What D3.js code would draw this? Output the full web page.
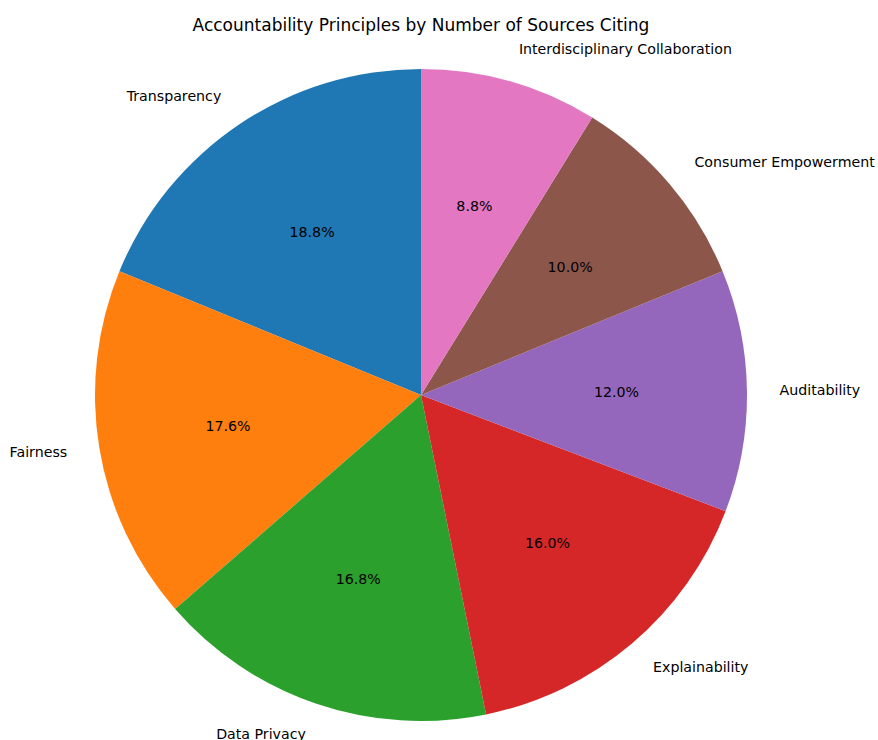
<!DOCTYPE html>
<html>
<head>
<meta charset="utf-8">
<script src="https://cdn.jsdelivr.net/npm/d3@7"></script>
<style>
  html, body { margin: 0; padding: 0; background: #fff; }
  svg text { font-family: "DejaVu Sans", sans-serif; }
</style>
</head>
<body>
<svg id="chart" width="878" height="740"></svg>
<script>
// Accountability principles and how many sources cite each one
const categories = [
  "Transparency",
  "Fairness",
  "Data Privacy",
  "Explainability",
  "Auditability",
  "Consumer Empowerment",
  "Interdisciplinary Collaboration"
];
const sourceCounts = [47, 44, 42, 40, 30, 25, 22];
const sliceColors = ["#1f77b4", "#ff7f0e", "#2ca02c", "#d62728", "#9467bd", "#8c564b", "#e377c2"];
const chartTitle = "Accountability Principles by Number of Sources Citing";

const width = 878, height = 740;
const cx = 421, cy = 395, radius = 326;

const svg = d3.select("#chart");

const data = categories.map((c, i) => ({ label: c, value: sourceCounts[i], color: sliceColors[i] }));
const total = d3.sum(sourceCounts);

// Slices run counter-clockwise starting from 12 o'clock
const pie = d3.pie()
  .sort(null)
  .value(d => d.value)
  .startAngle(0)
  .endAngle(-2 * Math.PI);

const arcs = pie(data);
const arc = d3.arc().innerRadius(0).outerRadius(radius);

const g = svg.append("g").attr("transform", `translate(${cx},${cy})`);

g.selectAll("path.slice")
  .data(arcs)
  .join("path")
  .attr("class", "slice")
  .attr("d", arc)
  .attr("fill", d => d.data.color);

// Position helper: d3 angle is clockwise from 12 o'clock
function polar(angle, r) {
  return [r * Math.sin(angle), -r * Math.cos(angle)];
}
const mid = d => (d.startAngle + d.endAngle) / 2;

// Percentage labels inside slices
g.selectAll("text.pct")
  .data(arcs)
  .join("text")
  .attr("class", "pct")
  .attr("x", d => polar(mid(d), radius * 0.6)[0])
  .attr("y", d => polar(mid(d), radius * 0.6)[1] - 1)
  .attr("text-anchor", "middle")
  .attr("dominant-baseline", "central")
  .attr("font-size", 14.2)
  .attr("fill", "#000")
  .text(d => (d.data.value / total * 100).toFixed(1) + "%");

// Category labels outside the pie
g.selectAll("text.lbl")
  .data(arcs)
  .join("text")
  .attr("class", "lbl")
  .attr("x", d => polar(mid(d), radius * 1.1)[0])
  .attr("y", d => polar(mid(d), radius * 1.1)[1] - 1)
  .attr("text-anchor", d => polar(mid(d), 1)[0] < 0 ? "end" : "start")
  .attr("dominant-baseline", "central")
  .attr("font-size", 14.2)
  .attr("fill", "#000")
  .text(d => d.data.label);

svg.append("text")
  .attr("x", cx)
  .attr("y", 25)
  .attr("text-anchor", "middle")
  .attr("dominant-baseline", "central")
  .attr("font-size", 17)
  .attr("fill", "#000")
  .text(chartTitle);
</script>
</body>
</html>
